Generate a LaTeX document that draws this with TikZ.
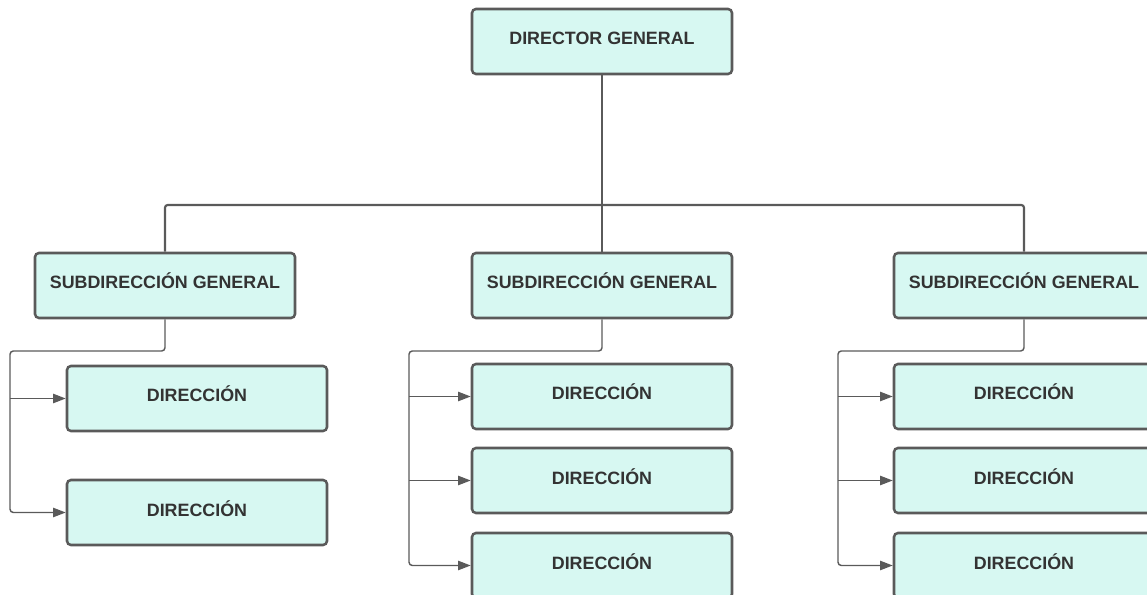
\documentclass[tikz,border=0pt]{standalone}
\usepackage{fontspec}
\setmainfont{Liberation Sans}
\usetikzlibrary{arrows.meta}
\definecolor{boxfill}{RGB}{215,248,242}
\definecolor{boxline}{RGB}{90,90,90}
\definecolor{ink}{RGB}{51,51,51}
\begin{document}
\begin{tikzpicture}[x=0.75pt,y=-0.75pt,
  unitbox/.style={draw=boxline, fill=boxfill, line width=1.9pt, rounded corners=3pt,
    minimum width=195pt, minimum height=48.75pt, inner sep=0pt,
    text height=9.75pt, text depth=4.5pt, text=ink,
    font=\fontsize{13.4pt}{15pt}\selectfont\bfseries},
  trunk/.style={draw=boxline, line width=1.6pt, rounded corners=2pt},
  branch/.style={draw=boxline, line width=1.1pt, rounded corners=2.5pt},
  feed/.style={branch, -{Triangle[length=9.5pt,width=7pt]}}]
\clip (0,0) rectangle (1147,595);
\useasboundingbox (0,0) rectangle (1147,595);

% top level
\node[unitbox] (dg) at (602,41.5) {DIRECTOR GENERAL};

% second level
\node[unitbox] (s1) at (165,285.5) {SUBDIRECCIÓN GENERAL};
\node[unitbox] (s2) at (602,285.5) {SUBDIRECCIÓN GENERAL};
\node[unitbox] (s3) at (1024,285.5) {SUBDIRECCIÓN GENERAL};

% third level
\node[unitbox] (d11) at (197,398.5) {DIRECCIÓN};
\node[unitbox] (d12) at (197,512.5) {DIRECCIÓN};
\node[unitbox] (d21) at (602,396.5) {DIRECCIÓN};
\node[unitbox] (d22) at (602,480.5) {DIRECCIÓN};
\node[unitbox] (d23) at (602,565.5) {DIRECCIÓN};
\node[unitbox] (d31) at (1024,396.5) {DIRECCIÓN};
\node[unitbox] (d32) at (1024,480.5) {DIRECCIÓN};
\node[unitbox] (d33) at (1024,565.5) {DIRECCIÓN};

% main tree
\coordinate (h) at (602,205);
\draw[trunk] (dg.south) -- (s2.north);
\draw[trunk] (s1.north) |- (s3.north |- h) -- (s3.north);

% branch buses
\coordinate (b1) at (10,351);
\coordinate (b2) at (409,351);
\coordinate (b3) at (838,351);

\draw[feed] (s1.south) |- (b1) |- (d12.west);
\draw[feed] (b1 |- d11.west) -- (d11.west);

\draw[feed] (s2.south) |- (b2) |- (d23.west);
\draw[feed] (b2 |- d21.west) -- (d21.west);
\draw[feed] (b2 |- d22.west) -- (d22.west);

\draw[feed] (s3.south) |- (b3) |- (d33.west);
\draw[feed] (b3 |- d31.west) -- (d31.west);
\draw[feed] (b3 |- d32.west) -- (d32.west);
\end{tikzpicture}
\end{document}
